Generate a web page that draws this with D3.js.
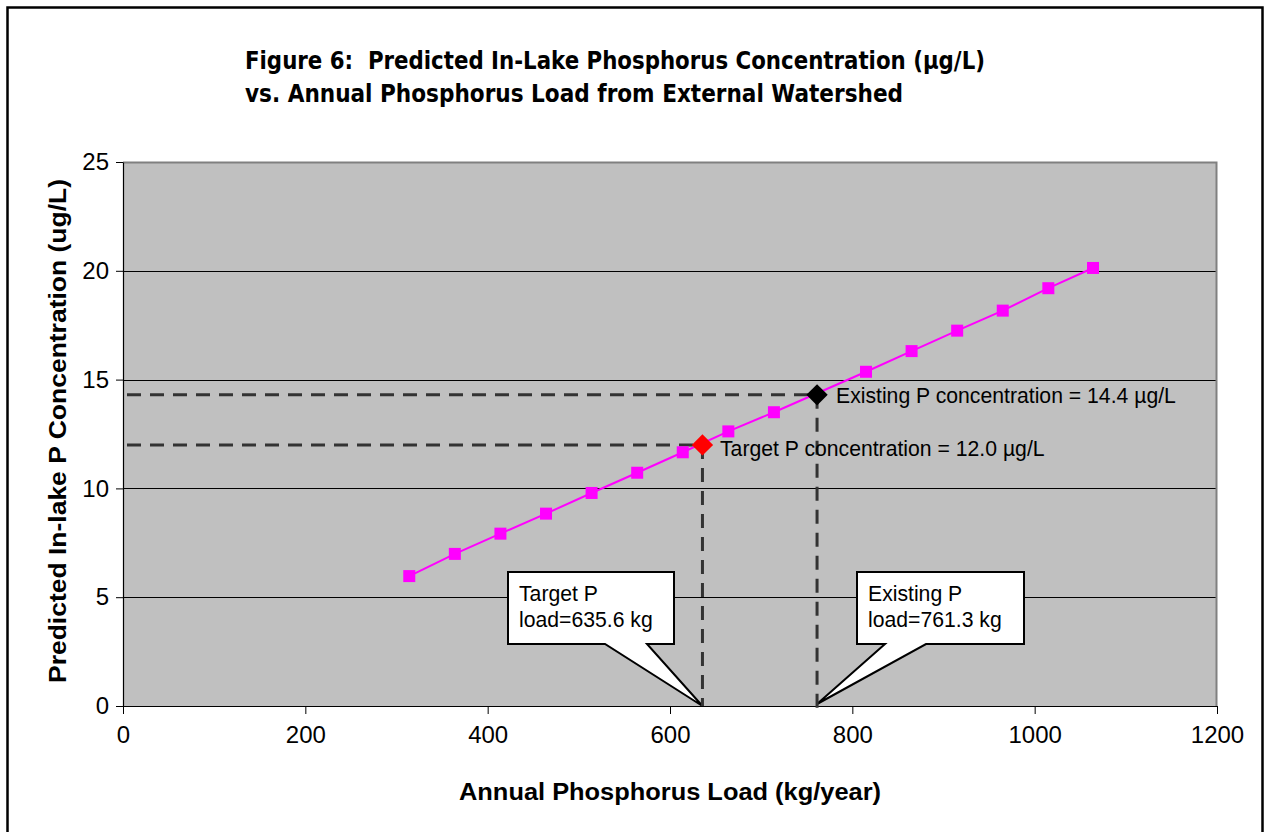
<!DOCTYPE html>
<html>
<head>
<meta charset="utf-8">
<script src="https://cdn.jsdelivr.net/npm/d3@7"></script>
<style>
  html, body { margin: 0; padding: 0; background: #fff; }
  svg { display: block; }
</style>
</head>
<body>
<svg id="chart" width="1266" height="832"></svg>
<script>
// ---- data ----
const loads = [314, 364, 414, 464, 514, 564, 614, 664, 714, 815, 865, 915, 965, 1015, 1064];
const concs = [5.97, 6.99, 7.92, 8.84, 9.79, 10.72, 11.66, 12.62, 13.50, 15.36, 16.31, 17.25, 18.17, 19.20, 20.13];
const targetPoint = { load: 635.6, conc: 12.0 };
const existingPoint = { load: 761.3, conc: 14.3 };
const xTicks = [0, 200, 400, 600, 800, 1000, 1200];
const yTicks = [0, 5, 10, 15, 20, 25];
const titleLines = ["Figure 6:  Predicted In-Lake Phosphorus Concentration (µg/L)", "vs. Annual Phosphorus Load from External Watershed"];
const xTitle = "Annual Phosphorus Load (kg/year)";
const yTitle = "Predicted In-lake P Concentration (ug/L)";
const targetConcLabel = "Target P concentration = 12.0 µg/L";
const existingConcLabel = "Existing P concentration = 14.4 µg/L";
const targetLoadLabel = ["Target P", "load=635.6 kg"];
const existingLoadLabel = ["Existing P", "load=761.3 kg"];

// ---- layout ----
const svg = d3.select("#chart");
const L = 123, R = 1217, T = 162, B = 706;
const x = d3.scaleLinear().domain([0, 1200]).range([L, R]);
const y = d3.scaleLinear().domain([0, 25]).range([B, T]);
const font = "'Liberation Sans', Arial, sans-serif";

// outer border
svg.append("rect").attr("x", 7.5).attr("y", 7.5).attr("width", 1255).attr("height", 830)
  .attr("fill", "#fff").attr("stroke", "#000").attr("stroke-width", 2.5);

// plot area
svg.append("rect").attr("x", L).attr("y", T).attr("width", R - L).attr("height", B - T)
  .attr("fill", "#c0c0c0");
// gridlines
svg.append("g").selectAll("line").data(yTicks.filter(d => d > 0 && d < 25)).join("line")
  .attr("x1", L).attr("x2", R).attr("y1", d => Math.round(y(d)) + 0.5).attr("y2", d => Math.round(y(d)) + 0.5)
  .attr("stroke", "#000").attr("stroke-width", 1);
// plot border top/right
svg.append("path").attr("d", `M${L},${T + 0.5}H${R - 0.5}V${B}`)
  .attr("fill", "none").attr("stroke", "#808080").attr("stroke-width", 2);

// axes
const xAxis = d3.axisBottom(x).tickValues(xTicks).tickFormat(d3.format("d")).tickSize(8).tickSizeOuter(0).tickPadding(12);
const gx = svg.append("g").attr("transform", `translate(0,${B})`).call(xAxis);
const yAxis = d3.axisLeft(y).tickValues(yTicks).tickFormat(d3.format("d")).tickSize(7).tickSizeOuter(0).tickPadding(7);
const gy = svg.append("g").attr("transform", `translate(${L},0)`).call(yAxis);
[gx, gy].forEach(g => {
  g.select(".domain").attr("stroke", "#000").attr("stroke-width", 1.2);
  g.selectAll(".tick line").attr("stroke", "#000").attr("stroke-width", 1);
  g.selectAll(".tick text").attr("font-family", font).attr("font-size", 24).attr("fill", "#000");
});

// callouts
function callout(labels, bx, by, bw, bh, b1, b2, tip, tx) {
  const g = svg.append("g");
  g.append("path")
    .attr("d", `M${bx},${by}H${bx + bw}V${by + bh}H${b2}L${tip[0]},${tip[1]}L${b1},${by + bh}H${bx}Z`)
    .attr("fill", "#fff").attr("stroke", "#000").attr("stroke-width", 2);
  g.selectAll("text").data(labels).join("text")
    .attr("x", tx).attr("y", (d, i) => by + 29 + i * 26)
    .attr("font-family", font).attr("font-size", 21.2).attr("fill", "#000")
    .text(d => d);
}
callout(targetLoadLabel, 508, 572, 166, 72, 605, 647, [x(targetPoint.load), B], 519);
callout(existingLoadLabel, 857, 572, 167, 72, 885, 926, [x(existingPoint.load), B - 2], 868);

// dashed reference lines
const dash = "14,9";
function refLines(p, extra) {
  svg.append("line").attr("x1", L + 4).attr("x2", x(p.load)).attr("y1", y(p.conc)).attr("y2", y(p.conc))
    .attr("stroke", "#333").attr("stroke-width", 3).attr("stroke-dasharray", dash);
  svg.append("line").attr("x1", x(p.load)).attr("x2", x(p.load)).attr("y1", y(p.conc)).attr("y2", B + extra)
    .attr("stroke", "#333").attr("stroke-width", 3).attr("stroke-dasharray", dash);
}
refLines(targetPoint, 0);
refLines(existingPoint, 4);

// series line
svg.append("path").datum(loads.map((d, i) => [d, concs[i]]))
  .attr("d", d3.line().x(d => x(d[0])).y(d => y(d[1])))
  .attr("fill", "none").attr("stroke", "#ff00ff").attr("stroke-width", 2);
svg.append("g").selectAll("rect").data(loads.map((d, i) => [d, concs[i]])).join("rect")
  .attr("x", d => x(d[0]) - 6).attr("y", d => y(d[1]) - 6).attr("width", 12).attr("height", 12)
  .attr("fill", "#ff00ff");

// diamonds
const diamond = d3.symbol().type(d3.symbolDiamond2).size(290);
svg.append("path").attr("d", diamond).attr("transform", `translate(${x(targetPoint.load)},${y(targetPoint.conc)})`)
  .attr("fill", "#ff0000");
svg.append("path").attr("d", diamond).attr("transform", `translate(${x(existingPoint.load)},${y(existingPoint.conc)})`)
  .attr("fill", "#000");

// point labels
svg.append("text").attr("x", 720).attr("y", 456).attr("font-family", font).attr("font-size", 21.2)
  .attr("fill", "#000").text(targetConcLabel);
svg.append("text").attr("x", 836).attr("y", 403).attr("font-family", font).attr("font-size", 21.2)
  .attr("fill", "#000").text(existingConcLabel);

// titles
svg.append("g").selectAll("text").data(titleLines).join("text")
  .attr("x", 245).attr("y", (d, i) => 69 + i * 33)
  .style("white-space", "pre")
  .attr("font-family", "'DejaVu Sans', sans-serif").attr("font-weight", "bold").attr("font-size", 24)
  .attr("textLength", (d, i) => i === 0 ? 740 : 658).attr("lengthAdjust", "spacingAndGlyphs")
  .attr("fill", "#000").text(d => d);

svg.append("text").attr("x", (L + R) / 2).attr("y", 800).attr("text-anchor", "middle")
  .attr("font-family", font).attr("font-weight", "bold").attr("font-size", 23)
  .attr("textLength", 422).attr("lengthAdjust", "spacingAndGlyphs")
  .attr("fill", "#000").text(xTitle);

svg.append("text").attr("transform", `translate(66,431) rotate(-90)`).attr("text-anchor", "middle")
  .attr("font-family", font).attr("font-weight", "bold").attr("font-size", 23)
  .attr("textLength", 504).attr("lengthAdjust", "spacingAndGlyphs")
  .attr("fill", "#000").text(yTitle);
</script>
</body>
</html>
